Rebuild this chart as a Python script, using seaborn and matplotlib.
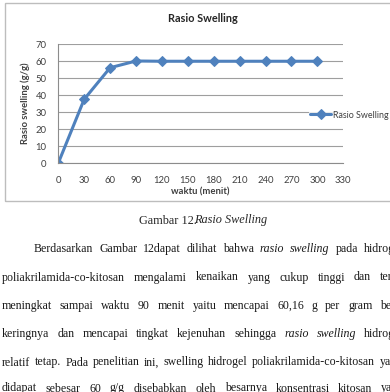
import matplotlib
matplotlib.use("Agg")
import matplotlib.pyplot as plt
import seaborn as sns
import pandas as pd
from matplotlib.patches import Rectangle

# ---- data ----
waktu = [0, 30, 60, 90, 120, 150, 180, 210, 240, 270, 300]
rasio = [0, 37.6, 56.2, 60.16, 60.0, 60.0, 60.0, 60.0, 60.0, 60.0, 60.0]
x_ticks = [0, 30, 60, 90, 120, 150, 180, 210, 240, 270, 300, 330]
y_ticks = [0, 10, 20, 30, 40, 50, 60, 70]
series_name = "Rasio Swelling"
chart_title = "Rasio Swelling"
x_label = "waktu (menit)"
y_label = "Rasio swelling (g/g)"

caption_regular = "Gambar 12."
caption_italic = "Rasio Swelling"
paragraph = [
    [("Berdasarkan", 0), ("Gambar", 0), ("12dapat", 0), ("dilihat", 0), ("bahwa", 0),
     ("rasio", 1), ("swelling", 1), ("pada", 0), ("hidrogel", 0)],
    [("poliakrilamida-co-kitosan", 0), ("mengalami", 0), ("kenaikan", 0), ("yang", 0),
     ("cukup", 0), ("tinggi", 0), ("dan", 0), ("terus", 0)],
    [("meningkat", 0), ("sampai", 0), ("waktu", 0), ("90", 0), ("menit", 0), ("yaitu", 0),
     ("mencapai", 0), ("60,16", 0), ("g", 0), ("per", 0), ("gram", 0), ("berat", 0)],
    [("keringnya", 0), ("dan", 0), ("mencapai", 0), ("tingkat", 0), ("kejenuhan", 0),
     ("sehingga", 0), ("rasio", 1), ("swelling", 1), ("hidrogel", 0)],
    [("relatif", 0), ("tetap.", 0), ("Pada", 0), ("penelitian", 0), ("ini,", 0),
     ("swelling", 0), ("hidrogel", 0), ("poliakrilamida-co-kitosan", 0), ("yang", 0)],
    [("didapat", 0), ("sebesar", 0), ("60", 0), ("g/g", 0), ("disebabkan", 0), ("oleh", 0),
     ("besarnya", 0), ("konsentrasi", 0), ("kitosan", 0), ("yang", 0)],
]

W, H = 390, 392
sns.set_style("white")
plt.rcParams['font.family'] = ['Lato', 'DejaVu Sans']

fig = plt.figure(figsize=(W / 100, H / 100), dpi=100)
fig.patch.set_facecolor("white")

# chart outer border
fig.add_artist(Rectangle((5 / W, 1 - 201 / H), 1.2, (201 - 3) / H,
                         transform=fig.transFigure, fill=False,
                         edgecolor="#BDBDBD", lw=1.0))

ax = fig.add_axes([58.3 / W, 1 - 163 / H, (343.3 - 58.3) / W, (163 - 44.3) / H])
df = pd.DataFrame({"waktu": waktu, "rasio": rasio})
sns.lineplot(data=df, x="waktu", y="rasio", ax=ax, color="#4F81BD", linewidth=2.2,
             marker="D", markersize=5, markeredgecolor="#4F81BD",
             label=series_name, legend=False)

ax.set_xlim(0, 330)
ax.set_ylim(0, 70)
ax.set_xticks(x_ticks)
ax.set_yticks(y_ticks)
ax.set_xticklabels([str(v) for v in x_ticks])
ax.set_yticklabels([str(v) for v in y_ticks])
ax.tick_params(axis="both", labelsize=6.8, colors="#404040", length=3.5,
               width=0.8, color="#8C8C8C", direction="out")
ax.tick_params(axis="x", pad=6)
ax.tick_params(axis="y", pad=5)
for s in ["top", "right"]:
    ax.spines[s].set_visible(False)
for s in ["left", "bottom"]:
    ax.spines[s].set_color("#8C8C8C")
    ax.spines[s].set_linewidth(0.8)
ax.yaxis.grid(True, color="#9E9E9E", lw=0.8)
ax.xaxis.grid(False)
ax.set_axisbelow(True)
ax.patch.set_alpha(0)

ax.set_xlabel(x_label, fontsize=6.8, fontweight="bold", color="#404040")
ax.set_ylabel(y_label, fontsize=6.8, fontweight="bold", color="#404040")
ax.xaxis.set_label_coords((200 - 58.3) / (343.3 - 58.3), -(187.5 - 163) / (163 - 44.3))
ax.yaxis.set_label_coords(-(58.3 - 30) / (343.3 - 58.3), 0.5)

fig.text(203 / W, 1 - 19 / H, chart_title, fontsize=7.8, fontweight="bold",
         color="#262626", ha="center", va="center")

leg = ax.legend(loc="center left", bbox_to_anchor=(309 / W, 1 - 115 / H),
                bbox_transform=fig.transFigure, fontsize=6.4, frameon=True,
                borderpad=0.1, handlelength=2.4, handletextpad=0.15,
                borderaxespad=0)
leg.get_frame().set_facecolor("white")
leg.get_frame().set_edgecolor("none")
for t in leg.get_texts():
    t.set_color("#404040")

# ---- caption and paragraph text below chart ----
serif = ["Liberation Serif", "DejaVu Serif"]
fs = 8.6
cfs = 8.8
renderer = fig.canvas.get_renderer()


def width_of(t):
    return t.get_window_extent(renderer=renderer).width


cap1 = fig.text(0, 1 - 223.5 / H, caption_regular, family=serif, fontsize=cfs,
                color="#262626", va="baseline")
cap2 = fig.text(0, 1 - 223.5 / H, caption_italic, family=serif, fontsize=cfs,
                style="italic", color="#262626", va="baseline")
w1, w2 = width_of(cap1), width_of(cap2)
cx0 = 204 - (w1 + w2) / 2
cap1.set_x(cx0 / W)
cap2.set_x((cx0 + w1 - 2.0) / W)

baselines = [251.7, 280.5, 308.7, 336.7, 365.5, 391.5]
starts = [34, 2, 2, 2, 2, 2]
last_starts = [364, 380, 380, 364, 379.5, 381]
for words, yb, x0, xl in zip(paragraph, baselines, starts, last_starts):
    arts = []
    for w, it in words:
        t = fig.text(0, 1 - yb / H, w, family=serif, fontsize=fs, color="#1A1A1A",
                     style="italic" if it else "normal", va="baseline")
        arts.append(t)
    widths = [width_of(t) for t in arts]
    gap = (xl - x0 - sum(widths[:-1])) / (len(arts) - 1)
    x = x0
    for t, wd in zip(arts, widths):
        t.set_x(x / W)
        x += wd + gap

fig.savefig("out.png", dpi=100)
